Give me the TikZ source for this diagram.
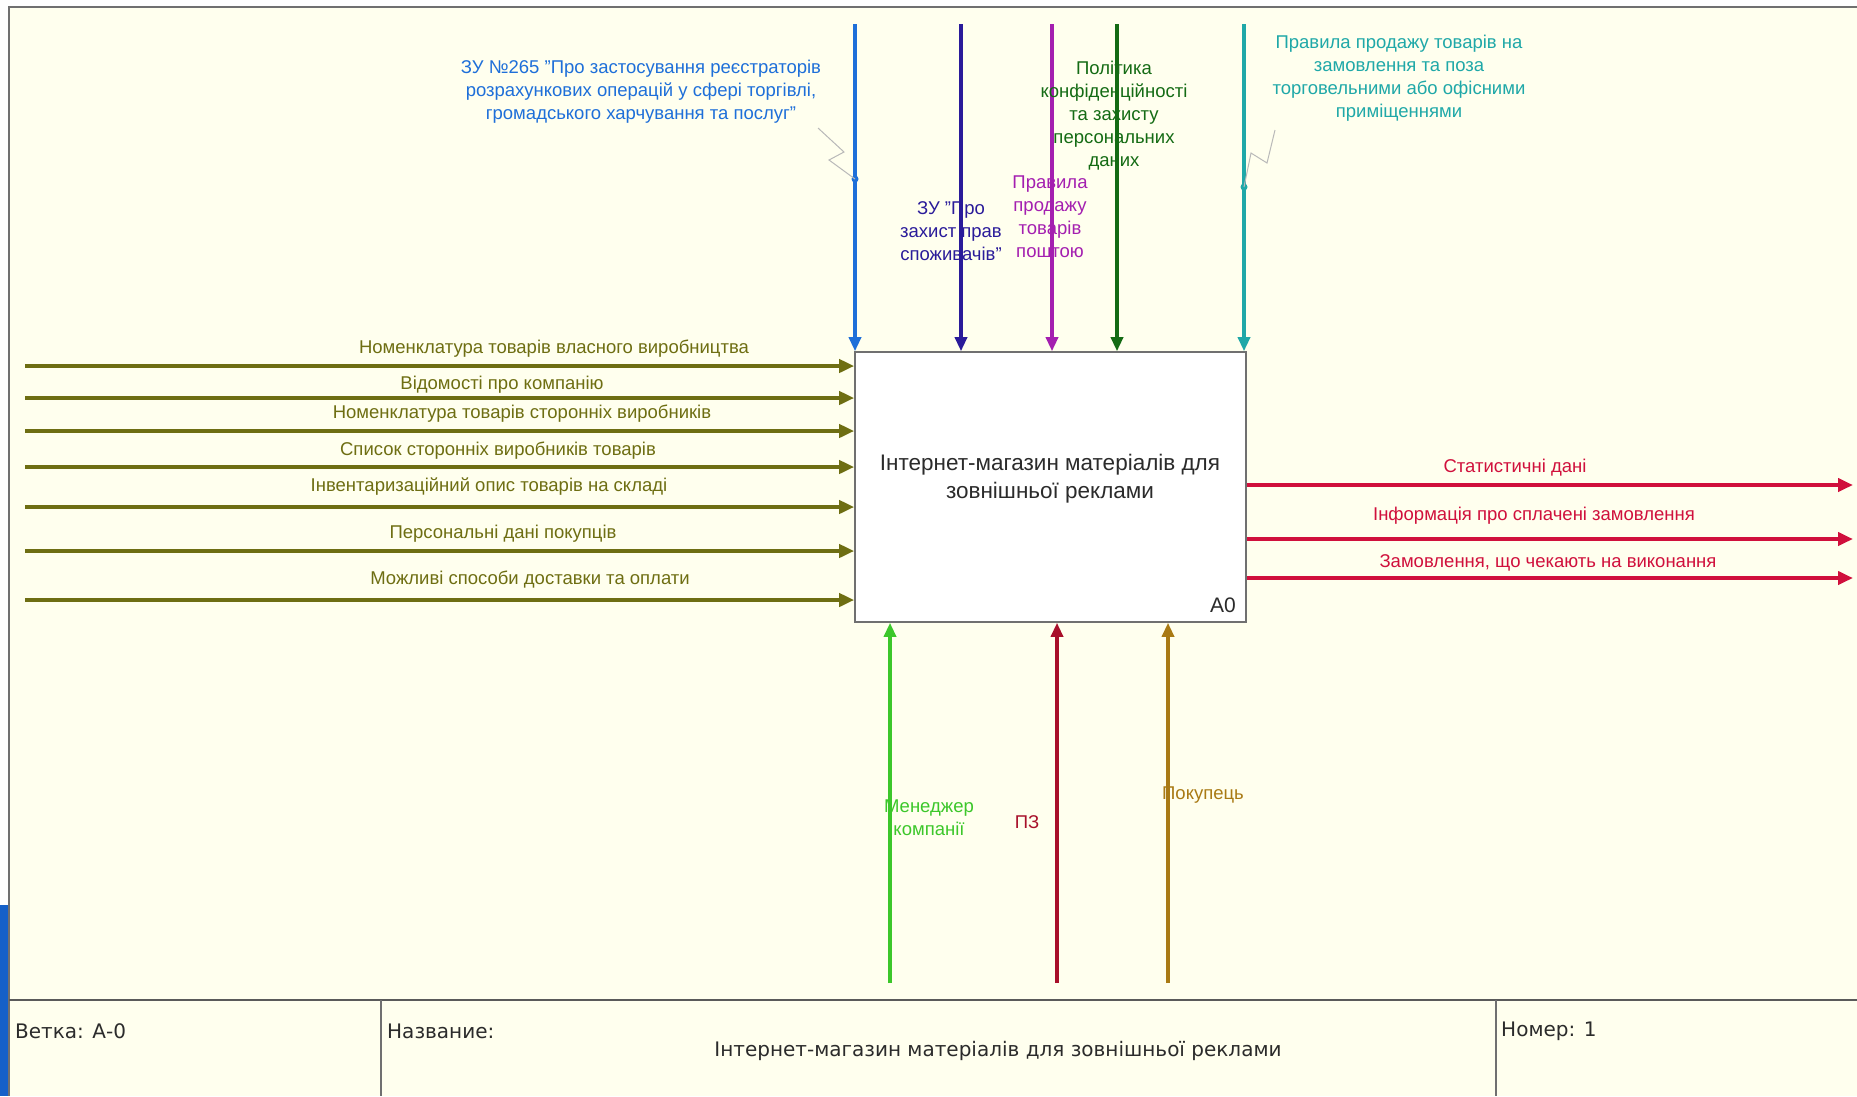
\documentclass[tikz,border=0pt]{standalone}
\usepackage{fontspec}
\setmainfont{Liberation Sans}
\newfontfamily\footfont{DejaVu Sans}
\usetikzlibrary{arrows.meta}
\definecolor{bgc}{HTML}{FFFFEE}
\definecolor{framec}{HTML}{707070}
\definecolor{cblue}{HTML}{1E6FD9}
\definecolor{cindigo}{HTML}{2A1B9A}
\definecolor{cmagenta}{HTML}{A41FB0}
\definecolor{cdkgreen}{HTML}{146B14}
\definecolor{cteal}{HTML}{1FA8A8}
\definecolor{colive}{HTML}{6E6E12}
\definecolor{ccrimson}{HTML}{D0103C}
\definecolor{clime}{HTML}{3CC72A}
\definecolor{cdkred}{HTML}{A8102A}
\definecolor{cbrown}{HTML}{A97A14}
\definecolor{txtc}{HTML}{2B2B2B}
\definecolor{wblue}{HTML}{1560C8}
\tikzset{
  arr/.style={line width=3.3pt,-{Triangle[length=14pt,width=12pt]}},
  harr/.style={line width=4pt,-{Triangle[length=15pt,width=13pt]}},
  lbl/.style={inner sep=0pt,align=center,font=\fontsize{18.5}{23}\selectfont},
  foot/.style={inner sep=0pt,anchor=west,text=txtc,font=\footfont\fontsize{20}{24}\selectfont},
  squig/.style={draw=gray!55,line width=1pt},
  jdot/.style={circle,inner sep=0pt,minimum size=7pt}
}
\begin{document}
\begin{tikzpicture}[x=1pt,y=-1pt]
\useasboundingbox (0,0) rectangle (1857,1096);
% window background and frame
\fill[white] (0,0) rectangle (1857,1096);
\fill[wblue] (0,905) rectangle (8,1096);
\fill[bgc] (9,7) rectangle (1857,1096);
\draw[framec,line width=2pt] (9,1096) -- (9,7) -- (1857,7);
% footer
\draw[framec!80!black,line width=1.6pt] (9,1000) -- (1857,1000);
\draw[framec,line width=1.2pt] (381,1000) -- (381,1096);
\draw[framec,line width=1.2pt] (1496,1000) -- (1496,1096);
\node[foot] (fb) at (15,1031) {Ветка: А-0};
\node[foot] (fn) at (387,1031) {Название:};
\node[foot,anchor=center] (ft) at (998,1051) {Інтернет-магазин матеріалів для зовнішньої реклами};
\node[foot] (fm) at (1501,1031) {Номер: 1};
% main box
\node[draw=framec,line width=1.6pt,fill=white,minimum width=391pt,minimum height=270pt,inner sep=0pt] (A0) at (1050.5,487) {};
\node[inner sep=0pt,align=center,text=txtc,font=\fontsize{22.5}{28}\selectfont] (A0t) at (1050,479) {Інтернет-магазин матеріалів для\\зовнішньої реклами};
\node[inner sep=0pt,text=txtc,font=\fontsize{21}{24}\selectfont] (A0n) at (1223,605) {A0};
% controls (top)
\coordinate (c1) at (855,24);
\coordinate (c2) at (961,24);
\coordinate (c3) at (1052,24);
\coordinate (c4) at (1117,24);
\coordinate (c5) at (1244,24);
\draw[arr,cblue] (c1) -- (c1 |- A0.north);
\draw[arr,cindigo] (c2) -- (c2 |- A0.north);
\draw[arr,cmagenta] (c3) -- (c3 |- A0.north);
\draw[arr,cdkgreen] (c4) -- (c4 |- A0.north);
\draw[arr,cteal] (c5) -- (c5 |- A0.north);
\node[jdot,fill=cblue] (d1) at (855,179) {};
\node[jdot,fill=cteal] (d5) at (1244,187) {};
\draw[squig] (818,128) -- (844,152) -- (829,160) -- (d1.center);
\draw[squig] (1275,130) -- (1267,163) -- (1251,153) -- (d5.center);
\node[lbl,text=cblue] (lc1) at (641,92) {ЗУ №265 "Про застосування реєстраторів\\розрахункових операцій у сфері торгівлі,\\громадського харчування та послуг"};
\node[lbl,text=cindigo] (lc2) at (951,231) {ЗУ "Про\\захист прав\\споживачів"};
\node[lbl,text=cmagenta] (lc3) at (1050,217) {Правила\\продажу\\товарів\\поштою};
\node[lbl,text=cdkgreen] (lc4) at (1114,116) {Політика\\конфіденційності\\та захисту\\персональних\\даних};
\node[lbl,text=cteal] (lc5) at (1399,78) {Правила продажу товарів на\\замовлення та поза\\торговельними або офісними\\приміщеннями};
% inputs (left)
\foreach \n/\y in {1/366,2/398,3/431,4/467,5/507,6/551,7/600}{
  \coordinate (i\n) at (25,\y);
  \draw[harr,colive] (i\n) -- (i\n -| A0.west);
}
\node[lbl,text=colive] (li1) at (554,349) {Номенклатура товарів власного виробництва};
\node[lbl,text=colive] (li2) at (502,385) {Відомості про компанію};
\node[lbl,text=colive] (li3) at (522,414) {Номенклатура товарів сторонніх виробників};
\node[lbl,text=colive] (li4) at (498,451) {Список сторонніх виробників товарів};
\node[lbl,text=colive] (li5) at (489,487) {Інвентаризаційний опис товарів на складі};
\node[lbl,text=colive] (li6) at (503,534) {Персональні дані покупців};
\node[lbl,text=colive] (li7) at (530,580) {Можливі способи доставки та оплати};
% outputs (right)
\foreach \n/\y in {1/485,2/539,3/578}{
  \coordinate (o\n) at (1853,\y);
  \draw[harr,ccrimson] (o\n -| A0.east) -- (o\n);
}
\node[lbl,text=ccrimson] (lo1) at (1515,468) {Статистичні дані};
\node[lbl,text=ccrimson] (lo2) at (1534,516) {Інформація про сплачені замовлення};
\node[lbl,text=ccrimson] (lo3) at (1548,563) {Замовлення, що чекають на виконання};
% mechanisms (bottom)
\coordinate (m1) at (890,983);
\coordinate (m2) at (1057,983);
\coordinate (m3) at (1168,983);
\draw[arr,clime] (m1) -- (m1 |- A0.south);
\draw[arr,cdkred] (m2) -- (m2 |- A0.south);
\draw[arr,cbrown] (m3) -- (m3 |- A0.south);
\node[lbl,text=clime] (lm1) at (929,818) {Менеджер\\компанії};
\node[lbl,text=cdkred] (lm2) at (1027,822) {ПЗ};
\node[lbl,text=cbrown] (lm3) at (1203,795) {Покупець};
\end{tikzpicture}
\end{document}
